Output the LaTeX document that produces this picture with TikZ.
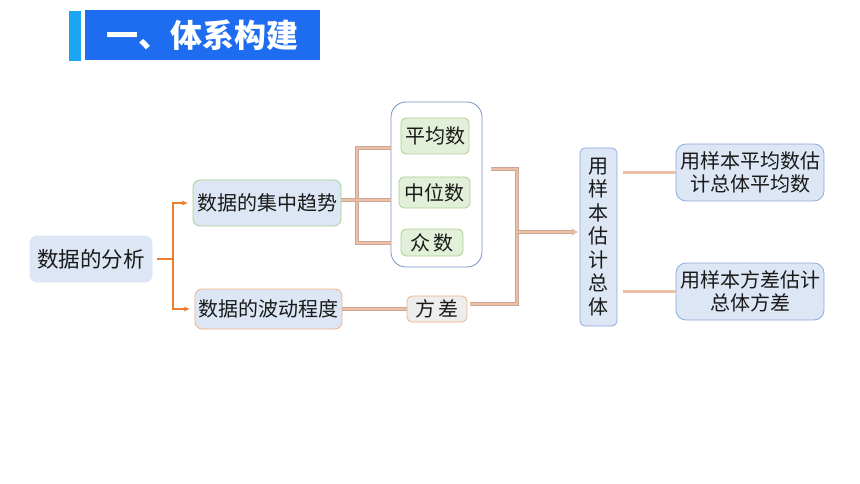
\documentclass[tikz,border=0pt]{standalone}
\usepackage{fontspec}
\setmainfont{Noto Sans CJK SC}
\usetikzlibrary{arrows.meta}
\definecolor{lbfill}{HTML}{DCE6F4}
\definecolor{gfill}{HTML}{E2F0D9}
\definecolor{gline}{HTML}{A9D18E}
\definecolor{oline}{HTML}{F4B183}
\definecolor{bline}{HTML}{8FAADC}
\definecolor{grpline}{HTML}{7393C4}
\definecolor{tan}{HTML}{EDC0A6}
\definecolor{tandark}{HTML}{C9A898}
\definecolor{orgc}{HTML}{ED7D31}
\definecolor{titleblue}{HTML}{1E6CF0}
\definecolor{titlecyan}{HTML}{1CA6F2}
\definecolor{txt}{HTML}{1A1A1A}
\tikzset{
  box/.style={rectangle, rounded corners=7pt, inner sep=0pt, text=txt, line width=0.8pt, font=\fontsize{20}{23.5}\selectfont},
  link/.style={draw=tan, line width=2.4pt, preaction={draw=tandark, line width=3.2pt}},
  orgline/.style={draw=orgc, line width=1.3pt},
}
\begin{document}
\begin{tikzpicture}[x=1pt,y=-1pt]
\useasboundingbox (0,0) rectangle (860,484);
% title
\fill[titlecyan] (69,11) rectangle (81,61);
\fill[titleblue] (85,10) rectangle (320,60);
\node[text=white, font=\fontsize{32}{36}\selectfont\bfseries] (title) at (202.5,35) {一、体系构建};
% nodes
\node[box, fill=lbfill, draw=lbfill, minimum width=122pt, minimum height=46pt, font=\fontsize{21.5}{24}\selectfont] (fx) at (91,259) {数据的分析};
\node[box, fill=lbfill, draw=gline, minimum width=148pt, minimum height=46pt] (jz) at (267,203) {数据的集中趋势};
\node[box, fill=lbfill, draw=oline, minimum width=147pt, minimum height=40pt] (bd) at (268.5,309) {数据的波动程度};
\node[box, fill=white, draw=grpline, rounded corners=15pt, minimum width=91pt, minimum height=165pt] (grp) at (436.5,184.5) {};
\node[box, fill=gfill, draw=gline, rounded corners=5pt, minimum width=68pt, minimum height=36pt] (pj) at (435,136) {平均数};
\node[box, fill=gfill, draw=gline, rounded corners=5pt, minimum width=71pt, minimum height=31pt] (zw) at (434.5,192.5) {中位数};
\node[box, fill=gfill, draw=gline, rounded corners=5pt, minimum width=62pt, minimum height=27pt] (zs) at (432,242.5) {众\,数};
\node[box, fill=black!7, draw=oline, rounded corners=5pt, minimum width=60pt, minimum height=26pt] (fc) at (437,309) {方\,差};
\node[box, fill=lbfill, draw=bline, rounded corners=5pt, minimum width=37pt, minimum height=178pt, align=center] (gy) at (598.5,237) {用\\样\\本\\估\\计\\总\\体};
\node[box, fill=lbfill, draw=bline, rounded corners=10pt, minimum width=148pt, minimum height=57pt, align=center] (na) at (750,172.5) {用样本平均数估\\计总体平均数};
\node[box, fill=lbfill, draw=bline, rounded corners=10pt, minimum width=148pt, minimum height=57pt, align=center] (nb) at (750,291.5) {用样本方差估计\\总体方差};
% orange connectors
\coordinate (oj) at (173,259);
\draw[orgline] ([xshift=5pt]fx.east) -- (oj);
\draw[orgline, -{Stealth[length=6pt,width=5pt]}] (oj) |- ([xshift=-5pt]jz.west);
\draw[orgline, -{Stealth[length=6pt,width=5pt]}] (oj) |- ([xshift=-5pt]bd.west);
% left bracket
\coordinate (bx) at (357,200);
\coordinate (bt) at (357,148);
\coordinate (bb) at (357,243);
\draw[link] (jz.east|-bx) -- (bx);
\draw[link] (grp.west|-bt) -| (bb) -- (grp.west|-bb);
\draw[link] (bx) -- (grp.west|-bx);
\draw[link] (bd.east) -- (fc.west);
% right bracket
\coordinate (rt) at (517,169);
\coordinate (rb) at (517,304);
\coordinate (rm) at (517,232);
\draw[link] ([xshift=9pt]grp.east|-rt) -- (rt) -- (rb) -- ([xshift=3pt]fc.east|-rb);
\draw[link, -{Stealth[length=6pt,width=7pt]}] (rm) -- ([xshift=-2pt]gy.west|-rm);
% right links
\draw[link] ([xshift=6pt]gy.east|-na) -- (na.west);
\draw[link] ([xshift=6pt]gy.east|-nb) -- (nb.west);
\end{tikzpicture}
\end{document}
